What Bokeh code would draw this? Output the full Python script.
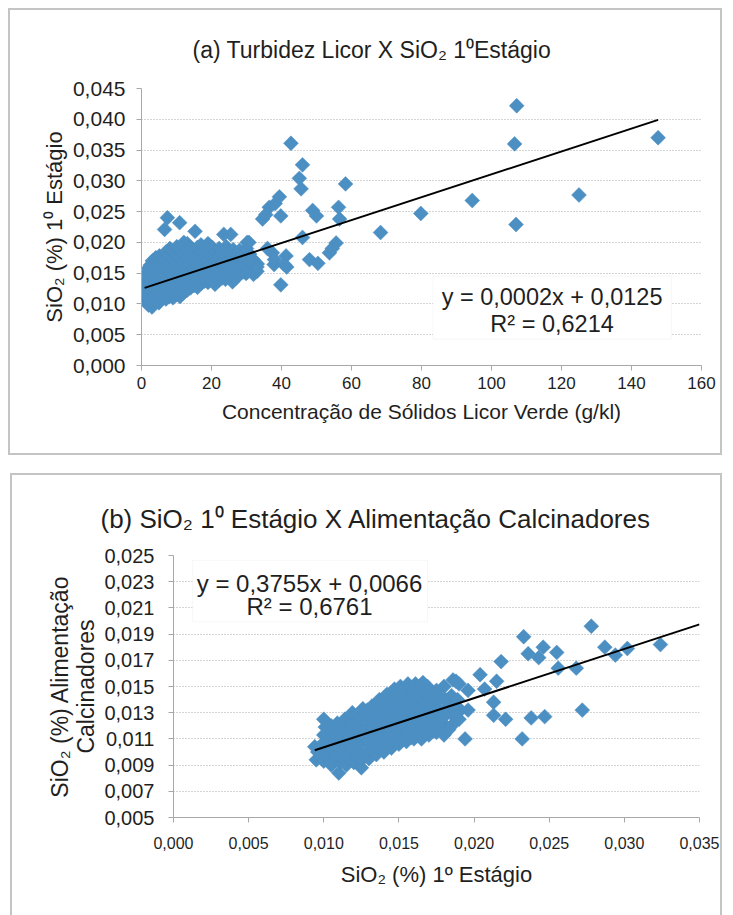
from bokeh.plotting import figure
from bokeh.layouts import column
from bokeh.models import (Range1d, FixedTicker, BoxAnnotation, Label, Title,
                          CustomJSTickFormatter)
from bokeh.embed import file_html
from bokeh.resources import INLINE

# ---------------- data: panel (a) ----------------
a_title = "(a) Turbidez Licor X SiO\u2082 1\u2070Estágio"
a_xlabel = "Concentração de Sólidos Licor Verde (g/kl)"
a_ylabel = "SiO\u2082 (%) 1\u2070 Estágio"
a_xticks = [0, 20, 40, 60, 80, 100, 120, 140, 160]
a_xticklabels = ["0", "20", "40", "60", "80", "100", "120", "140", "160"]
a_yticks = [0.0, 0.005, 0.01, 0.015, 0.02, 0.025, 0.03, 0.035, 0.04, 0.045]
a_yticklabels = ["0,000", "0,005", "0,010", "0,015", "0,020", "0,025",
                 "0,030", "0,035", "0,040", "0,045"]

a_cluster_x = [
    1.0, 1.1, 0.9,
    1.5, 1.6, 1.4, 1.5,
    2.0, 2.1, 1.9, 2.0, 2.2, 2.0,
    2.5, 2.6, 2.4, 2.5, 2.7, 2.5,
    3.0, 3.1, 2.9, 3.0, 3.2, 3.0, 3.1,
    3.5, 3.6, 3.4, 3.5, 3.7, 3.5,
    4.0, 4.1, 3.9, 4.0, 4.2, 4.0, 4.1,
    4.5, 4.6, 4.4, 4.5, 4.7, 4.5,
    5.0, 5.1, 4.9, 5.0, 5.2, 5.0, 5.1,
    5.5, 5.6, 5.4, 5.5, 5.7, 5.5,
    6.0, 6.1, 5.9, 6.0, 6.2, 6.0,
    6.5, 6.6, 6.4, 6.5, 6.7, 6.6,
    7.0, 7.1, 6.9, 7.0, 7.2, 7.0, 7.1,
    7.5, 7.6, 7.4, 7.5, 7.7, 7.4,
    8.0, 8.1, 7.9, 8.0, 8.2, 8.0, 8.1,
    9.0, 9.1, 8.9, 9.0, 9.2, 9.0, 9.1,
    10.0, 10.1, 9.9, 10.0, 10.2, 10.0, 10.1,
    11.0, 11.1, 10.9, 11.0, 11.2, 11.0, 11.1, 10.9,
    12.0, 12.1, 11.9, 12.0, 12.2, 12.0, 12.1,
    13.0, 13.1, 12.9, 13.0, 13.2, 13.0, 13.1,
    14.0, 14.1, 13.9, 14.0, 14.2, 14.0,
    15.0, 15.1, 14.9, 15.0, 15.2, 15.3,
    16.0, 16.1, 15.9, 16.0, 16.2, 16.0,
    17.0, 17.1, 16.9, 17.0, 17.2, 17.0,
    18.0, 18.1, 17.9, 18.0, 18.2,
    19.0, 19.1, 18.9, 19.0, 19.2, 19.0,
    20.0, 20.1, 19.9, 20.0, 20.2,
    21.0, 21.1, 20.9, 21.0, 21.2,
    22.0, 22.1, 21.9, 22.0, 22.2,
    23.0, 23.1, 22.9, 23.0, 23.5,
    24.0, 24.1, 23.9, 24.0, 24.2,
    25.0, 25.1, 24.9, 25.0, 25.5,
    26.0, 26.1, 25.9, 26.0, 26.2,
    27.0, 27.1, 26.9, 27.0,
    28.0, 28.1, 27.9, 28.0,
    29.0, 29.1, 28.9,
    30.0, 30.1, 29.9, 30.0, 30.2,
    31.0, 31.1, 30.9,
    32.0, 32.1, 31.9,
    33.0, 33.1,
]
a_cluster_y = [
    0.0105, 0.0118, 0.0128,
    0.0112, 0.0125, 0.0138, 0.0150,
    0.0098, 0.0108, 0.0120, 0.0132, 0.0145, 0.0158,
    0.0103, 0.0115, 0.0127, 0.0140, 0.0152, 0.0163,
    0.0095, 0.0110, 0.0122, 0.0135, 0.0148, 0.0160, 0.0170,
    0.0100, 0.0118, 0.0130, 0.0143, 0.0155, 0.0166,
    0.0105, 0.0114, 0.0126, 0.0139, 0.0151, 0.0163, 0.0175,
    0.0110, 0.0122, 0.0134, 0.0147, 0.0159, 0.0170,
    0.0102, 0.0117, 0.0129, 0.0141, 0.0154, 0.0166, 0.0178,
    0.0108, 0.0121, 0.0136, 0.0149, 0.0161, 0.0172,
    0.0112, 0.0125, 0.0138, 0.0152, 0.0165, 0.0176,
    0.0118, 0.0131, 0.0145, 0.0158, 0.0170, 0.0221,
    0.0108, 0.0122, 0.0135, 0.0149, 0.0162, 0.0174, 0.0185,
    0.0115, 0.0128, 0.0142, 0.0156, 0.0168, 0.0240,
    0.0112, 0.0125, 0.0138, 0.0151, 0.0164, 0.0178, 0.0190,
    0.0110, 0.0120, 0.0133, 0.0146, 0.0159, 0.0172, 0.0184,
    0.0115, 0.0128, 0.0141, 0.0154, 0.0167, 0.0180, 0.0193,
    0.0112, 0.0124, 0.0137, 0.0150, 0.0163, 0.0176, 0.0188, 0.0232,
    0.0118, 0.0131, 0.0144, 0.0157, 0.0170, 0.0183, 0.0200,
    0.0122, 0.0135, 0.0148, 0.0161, 0.0174, 0.0187, 0.0198,
    0.0126, 0.0139, 0.0152, 0.0165, 0.0178, 0.0190,
    0.0130, 0.0143, 0.0156, 0.0169, 0.0182, 0.0218,
    0.0127, 0.0140, 0.0153, 0.0166, 0.0179, 0.0192,
    0.0133, 0.0146, 0.0159, 0.0172, 0.0185, 0.0196,
    0.0137, 0.0150, 0.0163, 0.0176, 0.0189,
    0.0135, 0.0148, 0.0161, 0.0174, 0.0188, 0.0198,
    0.0140, 0.0153, 0.0166, 0.0179, 0.0192,
    0.0132, 0.0145, 0.0158, 0.0171, 0.0184,
    0.0138, 0.0151, 0.0164, 0.0177, 0.0190,
    0.0142, 0.0155, 0.0168, 0.0181, 0.0213,
    0.0140, 0.0153, 0.0166, 0.0179, 0.0193,
    0.0145, 0.0158, 0.0171, 0.0184, 0.0213,
    0.0136, 0.0149, 0.0162, 0.0175, 0.0188,
    0.0142, 0.0155, 0.0168, 0.0181,
    0.0148, 0.0161, 0.0174, 0.0187,
    0.0152, 0.0165, 0.0178,
    0.0150, 0.0163, 0.0176, 0.0190, 0.0200,
    0.0155, 0.0168, 0.0181,
    0.0148, 0.0160, 0.0172,
    0.0153, 0.0165,
]
a_outlier_x = [107.2, 106.6, 147.6, 125.0, 107.0, 94.5, 79.8, 68.3, 58.3, 42.7,
               46.0, 45.1, 45.6, 48.9, 50.0, 46.0, 48.0, 50.4, 56.3, 56.6,
               55.6, 53.7, 54.5, 39.4, 38.2, 39.8, 36.5, 34.6, 35.5, 39.8,
               37.4, 41.3, 37.9, 40.8, 30.7, 31.6, 29.8, 33.0, 36.0, 38.0, 41.5]
a_outlier_y = [0.0422, 0.0360, 0.0370, 0.0277, 0.0229, 0.0268, 0.0247, 0.0216, 0.0295, 0.0361,
               0.0326, 0.0304, 0.0287, 0.0252, 0.0243, 0.0208, 0.0172, 0.0166, 0.0257, 0.0238,
               0.0199, 0.0183, 0.0190, 0.0274, 0.0263, 0.0243, 0.0257, 0.0238, 0.0245, 0.0131,
               0.0183, 0.0178, 0.0164, 0.0164, 0.0200, 0.0166, 0.0150, 0.0160, 0.0190, 0.0172, 0.0160]
a_slope, a_intercept = 0.000186, 0.01245
a_eq = "y = 0,0002x + 0,0125"
a_r2 = "R² = 0,6214"

# ---------------- data: panel (b) ----------------
b_title = "(b) SiO\u2082 1\u2070 Estágio X Alimentação Calcinadores"
b_xlabel = "SiO\u2082 (%) 1º Estágio"
b_ylabel = "SiO\u2082 (%) Alimentação\nCalcinadores"
b_xticks = [0.0, 0.005, 0.01, 0.015, 0.02, 0.025, 0.03, 0.035]
b_xticklabels = ["0,000", "0,005", "0,010", "0,015", "0,020", "0,025", "0,030", "0,035"]
b_yticks = [0.005, 0.007, 0.009, 0.011, 0.013, 0.015, 0.017, 0.019, 0.021, 0.023, 0.025]
b_yticklabels = ["0,005", "0,007", "0,009", "0,011", "0,013", "0,015",
                 "0,017", "0,019", "0,021", "0,023", "0,025"]

b_cluster_x = [
    0.0095, 0.0096, 0.0094,
    0.0098, 0.0098,
    0.0100, 0.0101, 0.0099, 0.0100, 0.0101, 0.0100,
    0.0103, 0.0103, 0.0102,
    0.0105, 0.0106, 0.0104, 0.0105, 0.0106, 0.0105,
    0.0108, 0.0108, 0.0107, 0.0108,
    0.0110, 0.0111, 0.0109, 0.0110, 0.0111, 0.0110, 0.0109,
    0.0113, 0.0113, 0.0112, 0.0113,
    0.0115, 0.0116, 0.0114, 0.0115, 0.0116, 0.0115, 0.0114,
    0.0118, 0.0118, 0.0117, 0.0118,
    0.0120, 0.0121, 0.0119, 0.0120, 0.0121, 0.0120, 0.0119,
    0.0123, 0.0123, 0.0122, 0.0123,
    0.0125, 0.0126, 0.0124, 0.0125, 0.0126, 0.0125, 0.0124, 0.0126,
    0.0128, 0.0128, 0.0127, 0.0128,
    0.0130, 0.0131, 0.0129, 0.0130, 0.0131, 0.0130, 0.0129,
    0.0133, 0.0133, 0.0132, 0.0133, 0.0132,
    0.0135, 0.0136, 0.0134, 0.0135, 0.0136, 0.0135, 0.0134, 0.0136,
    0.0138, 0.0138, 0.0137, 0.0138, 0.0137,
    0.0140, 0.0141, 0.0139, 0.0140, 0.0141, 0.0140, 0.0139, 0.0141,
    0.0143, 0.0143, 0.0142, 0.0143, 0.0142,
    0.0145, 0.0146, 0.0144, 0.0145, 0.0146, 0.0145, 0.0144, 0.0146,
    0.0148, 0.0148, 0.0147, 0.0148, 0.0147,
    0.0150, 0.0151, 0.0149, 0.0150, 0.0151, 0.0150, 0.0149, 0.0151,
    0.0153, 0.0153, 0.0152, 0.0153, 0.0152,
    0.0155, 0.0156, 0.0154, 0.0155, 0.0156, 0.0155, 0.0154, 0.0156,
    0.0158, 0.0158, 0.0157, 0.0158, 0.0157,
    0.0160, 0.0161, 0.0159, 0.0160, 0.0161, 0.0160, 0.0159, 0.0161,
    0.0163, 0.0163, 0.0162, 0.0163, 0.0162,
    0.0165, 0.0166, 0.0164, 0.0165, 0.0166, 0.0165, 0.0164, 0.0166,
    0.0168, 0.0168, 0.0167, 0.0168,
    0.0170, 0.0171, 0.0169, 0.0170, 0.0171, 0.0170, 0.0169,
    0.0173, 0.0173, 0.0172, 0.0173,
    0.0175, 0.0176, 0.0174, 0.0175, 0.0176, 0.0175,
    0.0178, 0.0178, 0.0177,
    0.0180, 0.0181, 0.0179, 0.0180, 0.0181, 0.0180,
    0.0185, 0.0186, 0.0184, 0.0185, 0.0186,
    0.0190, 0.0191, 0.0189, 0.0190,
]
b_cluster_y = [
    0.0094, 0.0100, 0.0104,
    0.0097, 0.0103,
    0.0093, 0.0099, 0.0106, 0.0113, 0.0119, 0.0125,
    0.0096, 0.0105, 0.0114,
    0.0090, 0.0097, 0.0103, 0.0109, 0.0115, 0.0120,
    0.0094, 0.0101, 0.0107, 0.0113,
    0.0084, 0.0092, 0.0098, 0.0104, 0.0110, 0.0116, 0.0122,
    0.0095, 0.0105, 0.0112, 0.0119,
    0.0090, 0.0096, 0.0102, 0.0108, 0.0114, 0.0120, 0.0125,
    0.0099, 0.0106, 0.0113, 0.0121,
    0.0092, 0.0098, 0.0104, 0.0110, 0.0116, 0.0122, 0.0130,
    0.0096, 0.0107, 0.0114, 0.0125,
    0.0088, 0.0095, 0.0101, 0.0107, 0.0113, 0.0119, 0.0126, 0.0133,
    0.0098, 0.0110, 0.0117, 0.0129,
    0.0095, 0.0101, 0.0107, 0.0113, 0.0119, 0.0125, 0.0132,
    0.0099, 0.0110, 0.0116, 0.0123, 0.0135,
    0.0098, 0.0104, 0.0110, 0.0116, 0.0122, 0.0128, 0.0134, 0.0138,
    0.0102, 0.0113, 0.0119, 0.0126, 0.0140,
    0.0100, 0.0106, 0.0112, 0.0118, 0.0124, 0.0130, 0.0136, 0.0142,
    0.0105, 0.0115, 0.0121, 0.0133, 0.0144,
    0.0103, 0.0109, 0.0115, 0.0121, 0.0127, 0.0133, 0.0139, 0.0145,
    0.0108, 0.0118, 0.0126, 0.0136, 0.0148,
    0.0106, 0.0112, 0.0118, 0.0124, 0.0130, 0.0136, 0.0142, 0.0150,
    0.0110, 0.0121, 0.0129, 0.0139, 0.0147,
    0.0108, 0.0114, 0.0120, 0.0126, 0.0132, 0.0138, 0.0145, 0.0152,
    0.0111, 0.0123, 0.0131, 0.0142, 0.0149,
    0.0110, 0.0116, 0.0122, 0.0128, 0.0134, 0.0140, 0.0146, 0.0152,
    0.0113, 0.0125, 0.0132, 0.0143, 0.0150,
    0.0110, 0.0117, 0.0123, 0.0129, 0.0135, 0.0141, 0.0147, 0.0153,
    0.0114, 0.0126, 0.0138, 0.0146,
    0.0113, 0.0119, 0.0125, 0.0131, 0.0137, 0.0143, 0.0150,
    0.0116, 0.0128, 0.0135, 0.0144,
    0.0115, 0.0121, 0.0127, 0.0133, 0.0139, 0.0147,
    0.0118, 0.0130, 0.0142,
    0.0113, 0.0120, 0.0126, 0.0132, 0.0140, 0.0150,
    0.0120, 0.0128, 0.0135, 0.0143, 0.0155,
    0.0125, 0.0132, 0.0140, 0.0152,
]
b_outlier_x = [0.0278, 0.0233, 0.0324, 0.0287, 0.0302, 0.0294, 0.0246, 0.0236, 0.0243, 0.0255,
               0.0256, 0.0268, 0.0218, 0.0204, 0.0215, 0.0207, 0.0272, 0.0238, 0.0247, 0.0221,
               0.0213, 0.0213, 0.0232, 0.0194, 0.0196, 0.0196, 0.0188, 0.0183]
b_outlier_y = [0.0196, 0.0188, 0.0182, 0.0180, 0.0179, 0.0174, 0.0180, 0.0175, 0.0172, 0.0176,
               0.0164, 0.0164, 0.0169, 0.0159, 0.0154, 0.0148, 0.0132, 0.0126, 0.0127, 0.0125,
               0.0128, 0.0138, 0.0110, 0.0110, 0.0132, 0.0147, 0.0154, 0.0117]
b_slope, b_intercept = 0.3755, 0.0066
b_line_end = 0.035
b_eq = "y = 0,3755x + 0,0066"
b_r2 = "R² = 0,6761"

# ---------------- styling ----------------
FONT = "Liberation Sans"
TXT = "#1f1f1f"
MARK = "#4C8FC3"
AXC = "#a8a8a8"
PANEL_BORDER = "2px solid #c4c4c4"
MSIZE = 10.5


def style_axes(p, xsize, ysize):
    for ax in (p.xaxis[0], p.yaxis[0]):
        ax.axis_line_color = AXC
        ax.major_tick_line_color = AXC
        ax.minor_tick_line_color = None
        ax.major_tick_in = 0
        ax.major_tick_out = 5
        ax.major_label_text_font = FONT
        ax.major_label_text_color = TXT
        ax.axis_label_text_font = FONT
        ax.axis_label_text_color = TXT
        ax.axis_label_text_font_style = "normal"
    p.xaxis[0].major_label_text_font_size = xsize
    p.yaxis[0].major_label_text_font_size = ysize
    p.xgrid.grid_line_color = None
    p.ygrid.grid_line_color = "#a9a9a9"
    p.ygrid.grid_line_dash = "1 2"
    p.ygrid.grid_line_width = 1
    p.outline_line_color = None
    p.background_fill_color = "white"
    p.border_fill_color = "white"


fmt = CustomJSTickFormatter(code="return tick.toFixed(3).replace('.', ',');")

# ---------------- panel (a) ----------------
pa = figure(width=714, height=447, output_backend="svg", toolbar_location=None,
            x_range=Range1d(0, 160), y_range=Range1d(0, 0.045),
            min_border_left=131, min_border_right=23, min_border_top=78,
            min_border_bottom=92)
pa.title = None
pa.add_layout(Title(text=a_title, text_font=FONT, text_font_size="23px",
                    text_font_style="normal", text_color=TXT, align="left",
                    offset=51, standoff=48, vertical_align="top"), "above")
style_axes(pa, "17px", "21px")
pa.xaxis.ticker = FixedTicker(ticks=a_xticks)
pa.xaxis.major_label_overrides = dict(zip(a_xticks, a_xticklabels))
pa.yaxis.ticker = FixedTicker(ticks=a_yticks)
pa.yaxis.formatter = fmt
pa.yaxis.major_label_overrides = dict(zip(a_yticks, a_yticklabels))
pa.xaxis.axis_label = a_xlabel
pa.yaxis.axis_label = a_ylabel
pa.xaxis.axis_label_text_font_size = "21px"
pa.yaxis.axis_label_text_font_size = "22px"
pa.xaxis.major_label_standoff = 6
pa.yaxis.major_label_standoff = 11
pa.xaxis.axis_label_standoff = 8
pa.yaxis.axis_label_standoff = 3

pa.scatter(a_cluster_x + a_outlier_x, a_cluster_y + a_outlier_y, marker="square",
           angle=0.785398, size=MSIZE, fill_color=MARK, line_color=MARK, line_width=0.5)
xa0, xa1 = min(a_cluster_x + a_outlier_x), max(a_cluster_x + a_outlier_x)
pa.line([xa0, xa1], [a_slope * xa0 + a_intercept, a_slope * xa1 + a_intercept],
        line_color="black", line_width=2)
pa.add_layout(BoxAnnotation(left=83.3, right=151.4, bottom=0.0043, top=0.0145,
                            fill_color="white", fill_alpha=1.0,
                            line_color="#e4e4e4", line_width=1))
pa.add_layout(Label(x=117.3, y=0.0112, text=a_eq, text_align="center",
                    text_baseline="middle", text_font=FONT, text_font_size="23.5px",
                    text_color=TXT))
pa.add_layout(Label(x=117.3, y=0.00675, text=a_r2, text_align="center",
                    text_baseline="middle", text_font=FONT, text_font_size="23.5px",
                    text_color=TXT))
pa.styles = {"border": PANEL_BORDER}
pa.margin = (8, 0, 0, 8)

# ---------------- panel (b) ----------------
pb = figure(width=712, height=442, output_backend="svg", toolbar_location=None,
            x_range=Range1d(0, 0.035), y_range=Range1d(0.005, 0.025),
            min_border_left=161, min_border_right=25, min_border_top=80,
            min_border_bottom=100)
pb.title = None
pb.add_layout(Title(text=b_title, text_font=FONT, text_font_size="26px",
                    text_font_style="normal", text_color=TXT, align="left",
                    offset=-73, standoff=40, vertical_align="top"), "above")
style_axes(pb, "16px", "20px")
pb.xaxis.ticker = FixedTicker(ticks=b_xticks)
pb.xaxis.formatter = fmt
pb.xaxis.major_label_overrides = dict(zip(b_xticks, b_xticklabels))
pb.yaxis.ticker = FixedTicker(ticks=b_yticks)
pb.yaxis.formatter = fmt
pb.yaxis.major_label_overrides = dict(zip(b_yticks, b_yticklabels))
pb.xaxis.axis_label = b_xlabel
pb.yaxis.axis_label = b_ylabel
pb.xaxis.axis_label_text_font_size = "22px"
pb.yaxis.axis_label_text_font_size = "23px"
pb.yaxis.axis_label_text_line_height = 1.0
pb.xaxis.major_label_standoff = 14
pb.yaxis.major_label_standoff = 14
pb.xaxis.axis_label_standoff = 10
pb.yaxis.axis_label_standoff = 2

pb.scatter(b_cluster_x + b_outlier_x, b_cluster_y + b_outlier_y, marker="square",
           angle=0.785398, size=MSIZE, fill_color=MARK, line_color=MARK, line_width=0.5)
xb0 = min(b_cluster_x + b_outlier_x)
pb.line([xb0, b_line_end], [b_slope * xb0 + b_intercept, b_slope * b_line_end + b_intercept],
        line_color="black", line_width=2)
pb.add_layout(BoxAnnotation(left=0.00127, right=0.0169, bottom=0.01994, top=0.02462,
                            fill_color="white", fill_alpha=1.0,
                            line_color="#e4e4e4", line_width=1))
pb.add_layout(Label(x=0.00905, y=0.02289, text=b_eq, text_align="center",
                    text_baseline="middle", text_font=FONT, text_font_size="24px",
                    text_color=TXT))
pb.add_layout(Label(x=0.00905, y=0.02108, text=b_r2, text_align="center",
                    text_baseline="middle", text_font=FONT, text_font_size="24px",
                    text_color=TXT))
pb.styles = {"border": PANEL_BORDER, "border-bottom": "none"}
pb.margin = (18, 0, 0, 10)

layout = column(column(pa), column(pb), spacing=0)
layout.styles = {"background-color": "white"}
open("out.html", "w").write(file_html(layout, INLINE))
